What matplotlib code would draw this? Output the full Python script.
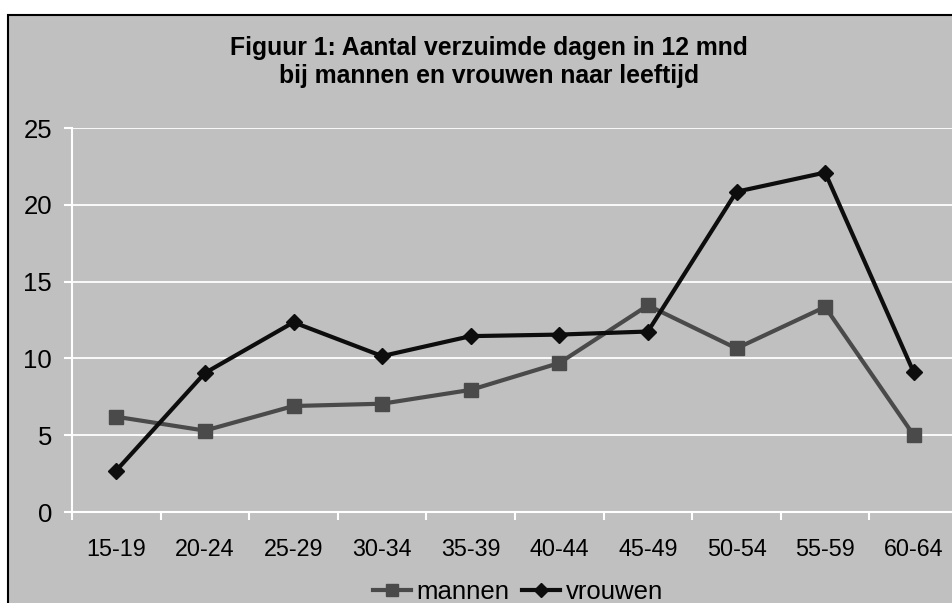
import matplotlib
matplotlib.use("Agg")
import matplotlib.pyplot as plt
from matplotlib.patches import Rectangle

plt.rcParams['font.family'] = ['Liberation Sans', 'DejaVu Sans']

categories = ["15-19", "20-24", "25-29", "30-34", "35-39", "40-44", "45-49", "50-54", "55-59", "60-64"]
mannen = [6.2, 5.3, 6.9, 7.05, 7.95, 9.7, 13.45, 10.65, 13.35, 5.0]
vrouwen = [2.7, 9.05, 12.35, 10.15, 11.45, 11.55, 11.75, 20.85, 22.1, 9.1]
yticks = [0, 5, 10, 15, 20, 25]
title = "Figuur 1: Aantal verzuimde dagen in 12 mnd\nbij mannen en vrouwen naar leeftijd"

W, H = 953, 603
fig = plt.figure(figsize=(W / 100, H / 100), dpi=100, facecolor='white')

# chart area background with border
bg = Rectangle((8 / W, 0 - 0.01), 1.02, 1 - 15 / H + 0.01, transform=fig.transFigure,
               facecolor='#c0c0c0', edgecolor='black', linewidth=1.5, zorder=-5)
fig.patches.append(bg)

left, right = 72 / W, 958 / W
bottom, top = (H - 512) / H, (H - 128) / H
ax = fig.add_axes([left, bottom, right - left, top - bottom])
ax.set_zorder(1)
ax.set_facecolor('#c0c0c0')

x = list(range(len(categories)))
ax.plot(x, mannen, color='#4a4a4a', lw=3, marker='s', markersize=10.5, label='mannen', zorder=3)
ax.plot(x, vrouwen, color='#0d0d0d', lw=3, marker='D', markersize=8, label='vrouwen', zorder=4)

ax.set_xlim(-0.5, len(categories) - 0.5)
ax.set_ylim(0, 25)
ax.set_yticks(yticks)
ax.set_yticklabels([str(v) for v in yticks], fontsize=18.5)
ax.set_xticks(x)
ax.set_xticklabels(categories, fontsize=16.8)
ax.set_xticks([i - 0.5 for i in range(len(categories) + 1)], minor=True)
ax.tick_params(axis='x', which='major', length=0, pad=18.5)
ax.tick_params(axis='x', which='minor', length=6, color='white', width=1.5)
ax.tick_params(axis='y', which='major', length=5.8, color='white', width=1.5, pad=8.6)

for s in ['top', 'right']:
    ax.spines[s].set_visible(False)
for s in ['left', 'bottom']:
    ax.spines[s].set_color('white')
    ax.spines[s].set_linewidth(1.5)

ax.grid(axis='y', color='white', lw=1.3)
ax.set_axisbelow(True)

fig.text(489 / W, 1 - 62 / H, title, ha='center', va='center', fontsize=17.8,
         fontweight='bold', linespacing=1.25)

fig.legend(loc='center', bbox_to_anchor=(518 / W, 11 / H), ncol=2, frameon=False,
           fontsize=18.5, handlelength=1.45, handletextpad=0.23, columnspacing=0.5,
           borderpad=0, borderaxespad=0, markerscale=0.85)

fig.savefig('out.png', dpi=100, facecolor='white')
